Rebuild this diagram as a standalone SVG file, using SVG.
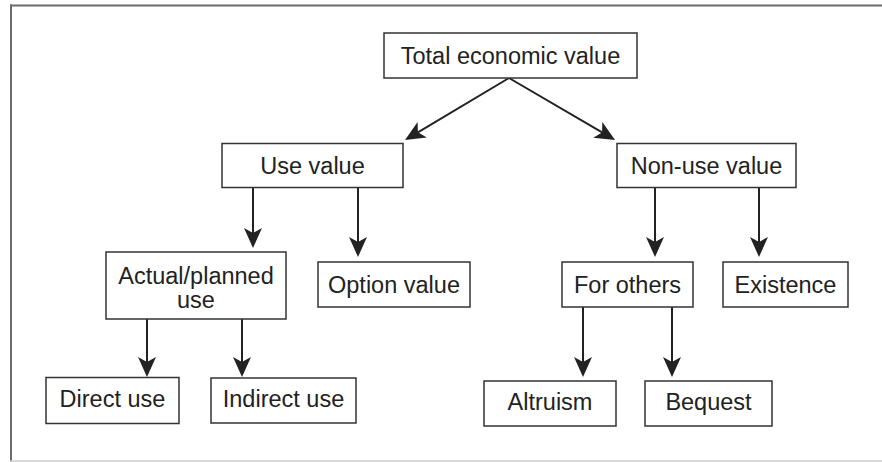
<svg xmlns="http://www.w3.org/2000/svg" width="882" height="462" viewBox="0 0 882 462">
<style>
.box{fill:#fff;stroke:#333;stroke-width:1.5}
.lbl{font-family:"Liberation Sans",Arial,sans-serif;font-size:23.5px;fill:#222;text-anchor:middle}
.con{stroke:#222;stroke-width:2;fill:none;marker-end:url(#ah)}
</style>
<defs>
<marker id="ah" markerUnits="userSpaceOnUse" markerWidth="20" markerHeight="18" viewBox="0 0 20 18" refX="5" refY="9" orient="auto">
<path d="M0,0 L20,9 L0,18 L5,9 Z" fill="#222"/>
</marker>
</defs>
<rect width="882" height="462" fill="#fff"/>
<g id="frame">
<line x1="10" y1="5.5" x2="882" y2="5.5" stroke="#6b6b6b" stroke-width="2"/>
<line x1="11" y1="4.5" x2="11" y2="462" stroke="#6b6b6b" stroke-width="2"/>
<line x1="10" y1="461" x2="882" y2="461" stroke="#ccc" stroke-width="1.5"/>
</g>
<g id="connectors">
<line class="con" x1="509" y1="78" x2="417.9" y2="132.3"/>
<line class="con" x1="509" y1="78" x2="602.1" y2="132.4"/>
<line class="con" x1="253" y1="188" x2="253" y2="233"/>
<line class="con" x1="358" y1="188" x2="358" y2="242"/>
<line class="con" x1="147" y1="319" x2="147" y2="362"/>
<line class="con" x1="242" y1="319" x2="242" y2="362"/>
<line class="con" x1="655" y1="188" x2="655" y2="242"/>
<line class="con" x1="759" y1="188" x2="759" y2="242"/>
<line class="con" x1="583" y1="307" x2="583" y2="362"/>
<line class="con" x1="672" y1="307" x2="672" y2="362"/>
</g>
<g id="total"><rect class="box" x="384" y="33" width="253" height="45"/><text class="lbl" x="510.5" y="63.5">Total economic value</text></g>
<g id="use"><rect class="box" x="222" y="143.5" width="181" height="44"/><text class="lbl" x="312.5" y="173.5">Use value</text></g>
<g id="nonuse"><rect class="box" x="617" y="143.5" width="179" height="44"/><text class="lbl" x="706.5" y="173.5">Non-use value</text></g>
<g id="actual"><rect class="box" x="106" y="252" width="180" height="67"/><text class="lbl" x="196" y="284">Actual/planned</text><text class="lbl" x="196" y="308">use</text></g>
<g id="option"><rect class="box" x="318" y="262" width="152" height="45"/><text class="lbl" x="394" y="293">Option value</text></g>
<g id="direct"><rect class="box" x="46" y="377.5" width="133" height="46"/><text class="lbl" x="112.5" y="406.5">Direct use</text></g>
<g id="indirect"><rect class="box" x="211" y="378" width="145" height="45"/><text class="lbl" x="283.5" y="406.5">Indirect use</text></g>
<g id="forothers"><rect class="box" x="562" y="262" width="131" height="45"/><text class="lbl" x="627.5" y="293">For others</text></g>
<g id="existence"><rect class="box" x="723" y="262" width="125" height="45"/><text class="lbl" x="785.5" y="293">Existence</text></g>
<g id="altruism"><rect class="box" x="484" y="381" width="132" height="45"/><text class="lbl" x="550" y="410">Altruism</text></g>
<g id="bequest"><rect class="box" x="645" y="381" width="127" height="45"/><text class="lbl" x="708.5" y="410">Bequest</text></g>
</svg>
